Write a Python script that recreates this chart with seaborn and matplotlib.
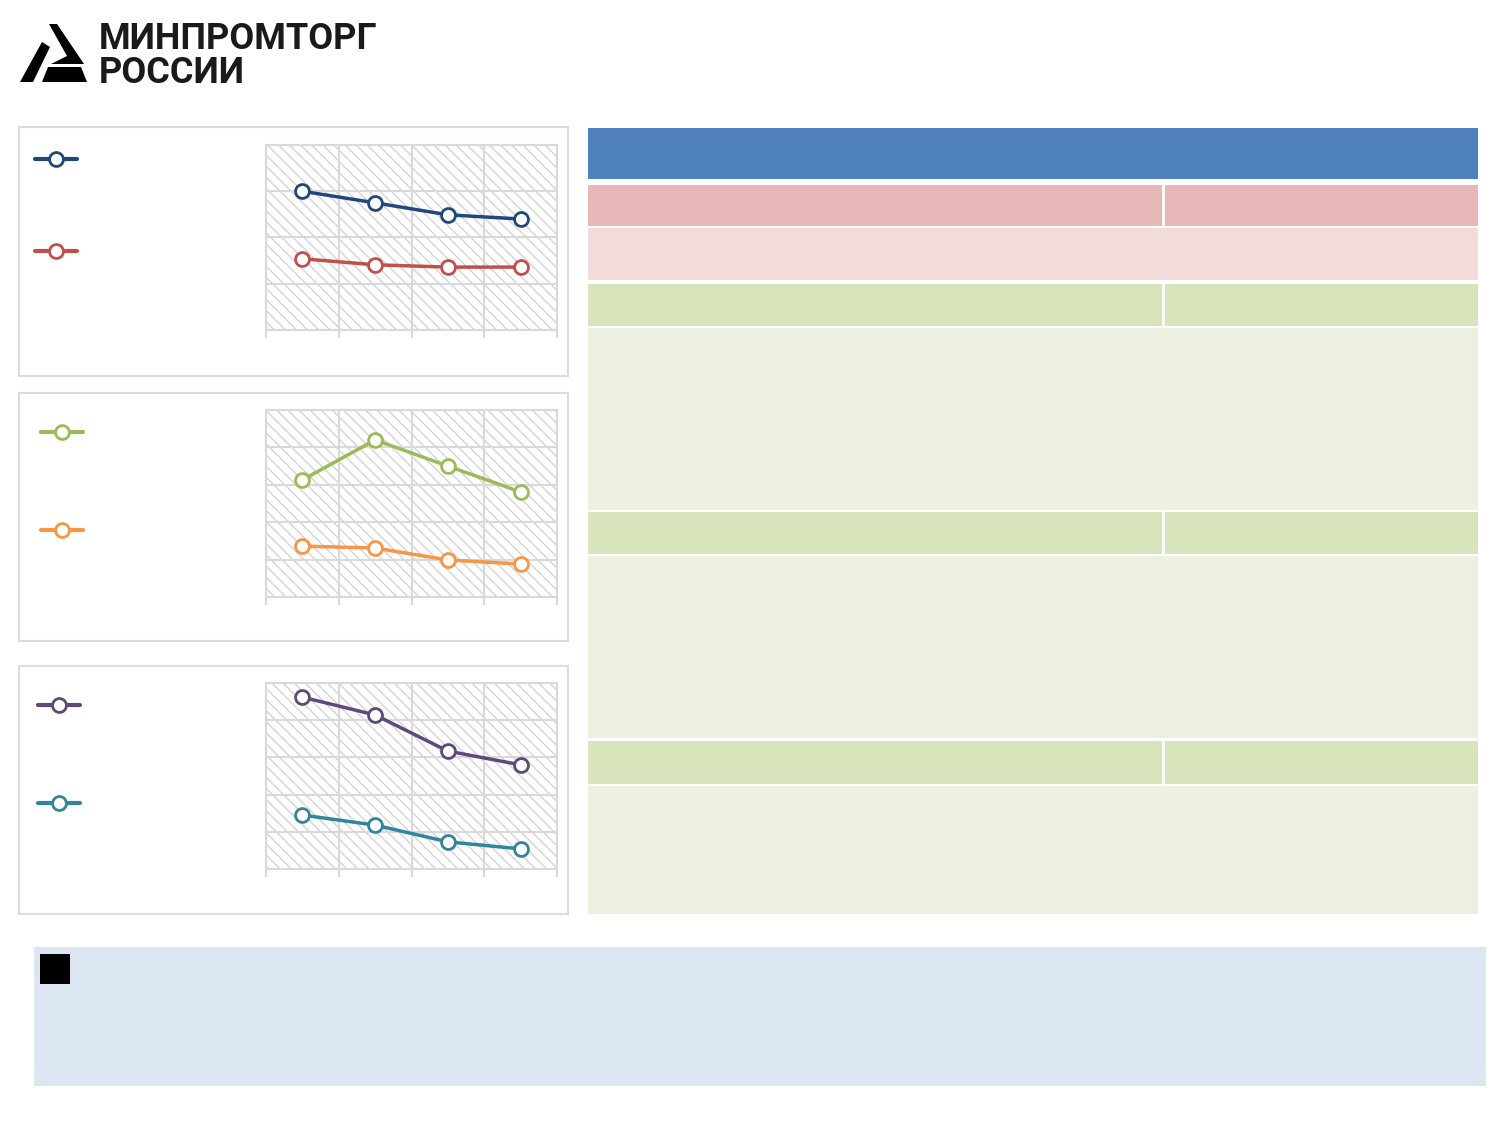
import pandas as pd
import seaborn as sns
import matplotlib.pyplot as plt
from matplotlib.patches import Rectangle, Polygon
from matplotlib.lines import Line2D

# data (no axis labels in the original, arbitrary units)
periods = ['2019', '2020', '2021', '2022']
blue_vals = [3.00, 2.75, 2.49, 2.40]
red_vals = [1.54, 1.41, 1.36, 1.36]
green_vals = [3.13, 4.20, 3.50, 2.81]
orange_vals = [1.36, 1.31, 0.99, 0.88]
purple_vals = [4.62, 4.14, 3.17, 2.80]
teal_vals = [1.45, 1.18, 0.73, 0.54]

sns.set_style('white')
plt.rcParams['font.family'] = ['Roboto', 'DejaVu Sans']
plt.rcParams['hatch.linewidth'] = 1.0

W, H = 1500, 1125
fig = plt.figure(figsize=(15, 11.25), dpi=100)

# background layer in pixel coordinates
bg = fig.add_axes([0, 0, 1, 1])
bg.set_xlim(0, W)
bg.set_ylim(H, 0)
bg.axis('off')


def box(x0, y0, x1, y1, **kw):
    bg.add_patch(Rectangle((x0, y0), x1 - x0, y1 - y0, **kw))


# logo
for pts in [
    [(49, 24), (57, 24), (84, 64), (51, 64), (67, 56)],
    [(42, 42), (50, 47), (33, 82), (20, 82)],
    [(48, 67), (81, 67), (87, 82), (42, 82)],
]:
    bg.add_patch(Polygon(pts, closed=True, facecolor='black', edgecolor='none'))
bg.text(99, 83, 'МИНПРОМТОРГ\nРОССИИ', fontsize=26, fontweight='bold', color='#1a1a1a',
        va='baseline', ha='left', linespacing=0.92)

# chart panels
for y0, y1 in [(127, 376), (393, 641), (666, 914)]:
    box(19, y0, 568, y1, facecolor='white', edgecolor='#dcdcdc', linewidth=1.5)

# table on the right
box(588, 128, 1478, 179, facecolor='#4F81BD', edgecolor='none')
rows = [(185, 226, '#E6B8B7', True), (228, 280, '#F2DCDB', False),
        (284, 326, '#D8E4BC', True), (328, 510, '#EBF1DE', False),
        (512, 554, '#D8E4BC', True), (556, 738, '#EBF1DE', False),
        (741, 784, '#D8E4BC', True), (786, 914, '#EBF1DE', False)]
for y0, y1, col, split in rows:
    box(588, y0, 1478, y1, facecolor=col, edgecolor='none')
    if split:
        bg.plot([1163, 1163], [y0, y1], color='white', linewidth=2)

# bottom note box
box(34, 947, 1486, 1086, facecolor='#DCE6F2', edgecolor='none')
box(40, 954, 70, 984, facecolor='black', edgecolor='none')

specs = [
    (145, 330, 4, [(blue_vals, '#1F497D'), (red_vals, '#C0504D')], [(56, 160), (56, 252)]),
    (410, 597, 5, [(green_vals, '#9BBB59'), (orange_vals, '#F79646')], [(62, 433), (62, 531)]),
    (683, 869, 5, [(purple_vals, '#5F497A'), (teal_vals, '#31859C')], [(59, 706), (59, 804)]),
]

grid_col = '#d9d9d9'
for y0, y1, n, series, leg_pos in specs:
    ax = fig.add_axes([266 / W, 1 - y1 / H, (557 - 266) / W, (y1 - y0) / H])
    ax.add_patch(Rectangle((0, 0), 1, 1, transform=ax.transAxes, facecolor='white',
                           edgecolor='#d4d4d4', linewidth=0, hatch='\\' * 3, zorder=0))
    for vals, c in series:
        df = pd.DataFrame({'period': periods, 'value': vals})
        sns.lineplot(data=df, x='period', y='value', ax=ax, color=c, marker='o',
                     markersize=10, markerfacecolor='white', markeredgecolor=c,
                     markeredgewidth=2, linewidth=2.5, zorder=3)
    ax.set_xlim(-0.5, 3.5)
    ax.set_ylim(0, n)
    ax.set_xticks([-0.5, 0.5, 1.5, 2.5, 3.5])
    ax.set_yticks(range(n + 1))
    ax.grid(True, color=grid_col, linewidth=1.5, zorder=1)
    ax.set_axisbelow(True)
    ax.tick_params(axis='x', length=6, width=1.5, color=grid_col, labelbottom=False, bottom=True)
    ax.tick_params(axis='y', length=0, labelleft=False)
    for sp in ax.spines.values():
        sp.set_color(grid_col)
        sp.set_linewidth(1.5)
    ax.set_xlabel('')
    ax.set_ylabel('')
    ax.patch.set_alpha(0)

    for (vals, c), (cx, cy) in zip(series, leg_pos):
        h = Line2D([], [], color=c, linewidth=3, marker='o', markersize=10,
                   markerfacecolor='white', markeredgecolor=c, markeredgewidth=2)
        fig.legend([h], [''], loc='center', bbox_to_anchor=(cx / W, 1 - cy / H),
                   frameon=False, handlelength=3, handletextpad=0, borderpad=0,
                   borderaxespad=0, fontsize=10)

fig.savefig('out.png', dpi=100)
